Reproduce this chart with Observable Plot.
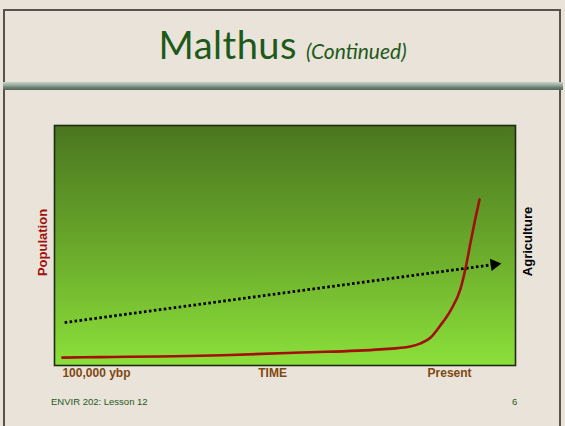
<!DOCTYPE html>
<html>
<head>
<meta charset="utf-8">
<script src="https://cdn.jsdelivr.net/npm/d3@7"></script>
<script src="https://cdn.jsdelivr.net/npm/@observablehq/plot@0.6"></script>
<style>
  html, body { margin: 0; padding: 0; }
  body { width: 565px; height: 426px; background: #e9e3d9; overflow: hidden; font-family: "Liberation Sans", Arial, sans-serif; }
  #slide { position: relative; width: 565px; height: 426px; }
  #border { position: absolute; left: 3px; top: 9px; width: 558px; height: 430px; border: 2px solid #56534d; box-sizing: border-box; }
  #title { position: absolute; left: 0; top: 21px; width: 565px; text-align: center; color: #1d5a1a; font-family: "Lato", "Noto Sans", sans-serif; }
  #title .main { font-size: 38px; letter-spacing: 0.5px; }
  #title .sub { font-size: 21px; font-style: italic; margin-left: 9px; }
  #bar { position: absolute; left: 3px; top: 82px; width: 560px; height: 8px;
         background: linear-gradient(to bottom, #c4d2c8 0%, #9fb1a5 35%, #6c7d71 70%, #56655b 100%); }
  #chart { position: absolute; left: 0; top: 0; }
  #footer { position: absolute; left: 51px; top: 396px; font-size: 9.5px; color: #255a22; }
  #page { position: absolute; left: 512px; top: 396px; font-size: 9.5px; color: #255a22; }
</style>
</head>
<body>
<div id="slide">
  <div id="border"></div>
  <div id="title"><span class="main">Malthus</span><span class="sub">(Continued)</span></div>
  <div id="bar"></div>
  <div id="chart"></div>
  <div id="footer">ENVIR 202: Lesson 12</div>
  <div id="page">6</div>
</div>
<script>
// Time runs 0..100 (left of chart to right); values in arbitrary 0..100 units
const popTime  = [1.7, 10, 38.2, 53.4, 70.7, 77.2, 79.4, 81.6, 83.7, 85.9, 88.1, 89.2, 90.2, 91.3, 92.2];
const popValue = [3.3, 3.5, 4.4, 5.4, 6.7, 7.9, 9.2, 11.7, 16.7, 22.9, 32.1, 40.8, 50.8, 61.3, 69.2];
const agTime  = [2.2, 95.4];
const agValue = [17.9, 42.1];
const tickPositions = [9.1, 47.3, 85.7];
const tickLabels = ["100,000 ybp", "TIME", "Present"];

const pop = popTime.map((t, i) => ({t, v: popValue[i]}));
const ag = agTime.map((t, i) => ({t, v: agValue[i]}));
const ticks = tickPositions.map((t, i) => ({t, label: tickLabels[i]}));

const chart = Plot.plot({
  width: 565,
  height: 426,
  marginLeft: 54,
  marginRight: 50,
  marginTop: 125,
  marginBottom: 61,
  x: {domain: [0, 100], axis: null},
  y: {domain: [0, 100], axis: null},
  style: {background: "transparent", fontFamily: "'Liberation Sans', Arial, sans-serif"},
  marks: [
    Plot.frame({fill: "url(#bgGrad)", stroke: "#1f2b14", strokeWidth: 1.6}),
    Plot.line(ag, {x: "t", y: "v", stroke: "#000", strokeWidth: 2.8, strokeDasharray: "2.6,2.4", strokeLinecap: "butt"}),
    Plot.dot(ag.slice(-1), {x: "t", y: "v", symbol: "triangle", r: 4.6, fill: "#000", stroke: "none", rotate: 82}),
    Plot.line(pop, {x: "t", y: "v", stroke: "#a20f0c", strokeWidth: 2.6, curve: "monotone-x"}),
    Plot.text(["Population"], {frameAnchor: "left", textAnchor: "middle", dx: -12, dy: -3, rotate: -90, fill: "#a0120f", fontSize: 13, fontWeight: "bold"}),
    Plot.text(["Agriculture"], {frameAnchor: "right", textAnchor: "middle", dx: 12, dy: -4, rotate: -90, fill: "#000", fontSize: 13, fontWeight: "bold"}),
    Plot.text(ticks, {x: "t", text: "label", frameAnchor: "bottom", dy: 11, fill: "#7d4812", fontSize: 12, fontWeight: "bold"})
  ]
});

const defs = d3.select(chart).insert("defs", ":first-child");
const grad = defs.append("linearGradient").attr("id", "bgGrad").attr("x1", 0).attr("y1", 0).attr("x2", 0).attr("y2", 1);
grad.append("stop").attr("offset", "0%").attr("stop-color", "#4a761f");
grad.append("stop").attr("offset", "50%").attr("stop-color", "#69a82b");
grad.append("stop").attr("offset", "100%").attr("stop-color", "#8be03a");

document.getElementById("chart").appendChild(chart);
</script>
</body>
</html>
